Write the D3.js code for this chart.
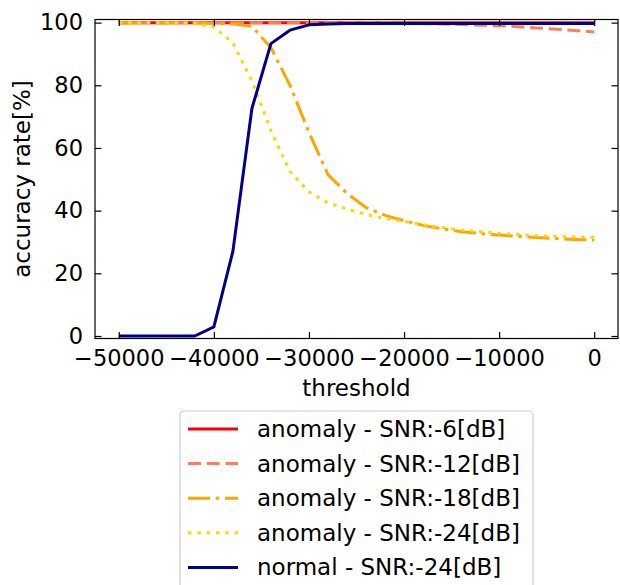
<!DOCTYPE html>
<meta charset='utf-8'>
<title>accuracy rate vs threshold</title>
<style>
body {
  margin: 0;
  background-color: #fff;
}
text {
  font-family: "DejaVu Sans", sans-serif;
  fill: #000;
}
</style>
<svg width="620" height="585"></svg>
<script src="https://d3js.org/d3.v7.min.js"></script>
<script>

// thresholds, every 2000 from -50000 to 0
var thresholds = [-50000, -48000, -46000, -44000, -42000, -40000, -38000, -36000, -34000,
                  -32000, -30000, -28000, -26000, -24000, -22000, -20000, -18000, -16000,
                  -14000, -12000, -10000, -8000, -6000, -4000, -2000, 0];

var anomaly6  = [100, 100, 100, 100, 100, 100, 100, 100, 100, 100, 100, 100, 100,
                 100, 100, 100, 100, 100, 100, 100, 100, 100, 100, 100, 100, 100];
var anomaly12 = [100, 100, 100, 100, 100, 100, 100, 100, 100, 100, 100, 100, 100,
                 100, 99.9, 99.8, 99.7, 99.6, 99.4, 99.2, 99.0, 98.7, 98.3, 97.9, 97.5, 97.0];
var anomaly18 = [100, 100, 100, 100, 100, 99.8, 99.6, 98.8, 92, 80, 65, 51.5, 45.5,
                 41, 38.5, 36.8, 35.3, 34.2, 33.3, 32.7, 32.2, 31.8, 31.4, 31.1, 30.8, 30.6];
var anomaly24 = [100, 100, 100, 100, 99.8, 98.6, 93.5, 81.5, 65.5, 52.5, 46, 42.5, 40.5,
                 38.8, 37.5, 36.6, 35.5, 34.6, 33.8, 33.3, 32.8, 32.4, 32.0, 31.8, 31.6, 31.5];
var normal24  = [0, 0, 0, 0, 0, 2.9, 27, 72.6, 93.3, 97.6, 99.3, 99.6, 99.7,
                 99.7, 99.7, 99.7, 99.7, 99.7, 99.7, 99.7, 99.7, 99.7, 99.7, 99.7, 99.7, 99.7];

var seriesNames = ["anomaly - SNR:-6[dB]", "anomaly - SNR:-12[dB]", "anomaly - SNR:-18[dB]",
                   "anomaly - SNR:-24[dB]", "normal - SNR:-24[dB]"];
var seriesValues = [anomaly6, anomaly12, anomaly18, anomaly24, normal24];
var seriesColors = ["#ff0000", "#ff7f50", "#ffa500", "#ffd700", "#00008b"];
var seriesDashes = [null, "13,5.7", "22,5.7,3.5,5.7", "3.5,5.8", null];

var xTicks = [-50000, -40000, -30000, -20000, -10000, 0];
var yTicks = [0, 20, 40, 60, 80, 100];

var svg = d3.select("svg");

// frame edges (window.top is reserved, so use other names)
var fLeft = 95, fRight = 618, fTop = 19.5, fBottom = 338.5;

var x = d3.scaleLinear()
    .domain([-52500, 2500])
    .range([fLeft, fRight]);

var y = d3.scaleLinear()
    .domain([-0.8, 101])
    .range([fBottom, fTop]);

var line = d3.line()
    .x(function(d) { return x(d[0]); })
    .y(function(d) { return y(d[1]); });

// data lines, clipped to the frame
svg.append("defs").append("clipPath")
    .attr("id", "frame")
  .append("rect")
    .attr("x", fLeft)
    .attr("y", fTop)
    .attr("width", fRight - fLeft)
    .attr("height", fBottom - fTop);

svg.append("g")
    .attr("clip-path", "url(#frame)")
  .selectAll("path")
    .data(seriesValues)
  .enter().append("path")
    .attr("d", function(vals) { return line(vals.map(function(v, i) { return [thresholds[i], v]; })); })
    .attr("fill", "none")
    .attr("stroke", function(d, i) { return seriesColors[i]; })
    .attr("stroke-dasharray", function(d, i) { return seriesDashes[i]; })
    .attr("stroke-width", 3)
    .attr("stroke-linejoin", "round");

// axes, ticks pointing inward on all four sides
var fmt = d3.format("d");

function styleAxis(g) {
  g.attr("font-size", null).attr("font-family", null);
  g.select(".domain").remove();
  g.selectAll(".tick line").attr("stroke", "#000").attr("stroke-width", 1.2);
  g.selectAll(".tick text").style("font-size", "22.5px");
}

svg.append("g")
    .attr("transform", "translate(0," + fBottom + ")")
    .call(d3.axisBottom(x).tickValues(xTicks).tickFormat(fmt).tickSize(-6.5).tickPadding(12))
    .call(styleAxis);

svg.append("g")
    .attr("transform", "translate(0," + fTop + ")")
    .call(d3.axisTop(x).tickValues(xTicks).tickFormat("").tickSize(-6.5))
    .call(styleAxis);

svg.append("g")
    .attr("transform", "translate(" + fLeft + ",0)")
    .call(d3.axisLeft(y).tickValues(yTicks).tickFormat(fmt).tickSize(-6.5).tickPadding(12))
    .call(styleAxis);

svg.append("g")
    .attr("transform", "translate(" + fRight + ",0)")
    .call(d3.axisRight(y).tickValues(yTicks).tickFormat("").tickSize(-6.5))
    .call(styleAxis);

svg.append("rect")
    .attr("x", fLeft)
    .attr("y", fTop)
    .attr("width", fRight - fLeft)
    .attr("height", fBottom - fTop)
    .attr("fill", "none")
    .attr("stroke", "#000")
    .attr("stroke-width", 1.2);

// axis labels
svg.append("text")
    .attr("x", (fLeft + fRight) / 2)
    .attr("y", 396)
    .attr("text-anchor", "middle")
    .style("font-size", "23px")
    .text("threshold");

svg.append("text")
    .attr("transform", "translate(30," + (fTop + fBottom) / 2 + ") rotate(-90)")
    .attr("text-anchor", "middle")
    .style("font-size", "23px")
    .text("accuracy rate[%]");

// legend
var legend = svg.append("g")
    .attr("transform", "translate(180,411)");

legend.append("rect")
    .attr("width", 353)
    .attr("height", 190)
    .attr("rx", 4)
    .attr("fill", "#fff")
    .attr("fill-opacity", 0.8)
    .attr("stroke", "#ccc")
    .attr("stroke-width", 1.2);

var item = legend.selectAll(".item")
    .data(seriesNames)
  .enter().append("g")
    .attr("class", "item")
    .attr("transform", function(d, i) { return "translate(0," + (18 + i * 34.6) + ")"; });

item.append("line")
    .attr("x1", 8)
    .attr("x2", 58)
    .attr("stroke", function(d, i) { return seriesColors[i]; })
    .attr("stroke-dasharray", function(d, i) { return seriesDashes[i]; })
    .attr("stroke-width", 3);

item.append("text")
    .attr("x", 77)
    .attr("dy", "0.35em")
    .style("font-size", "23px")
    .text(function(d) { return d; });

</script>
